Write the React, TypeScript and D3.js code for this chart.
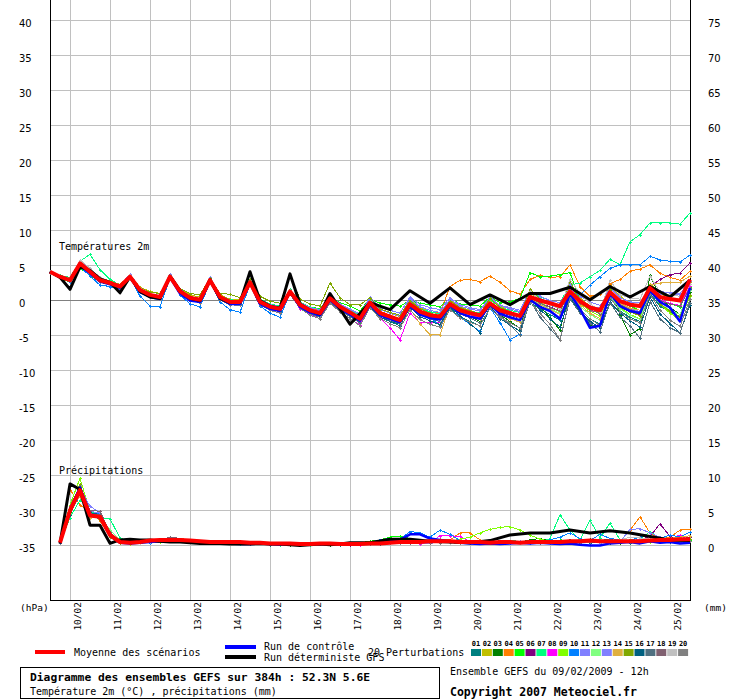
import React from "react";
import * as d3 from "d3";

// ---------- labels ----------
const DATES = ["10/02","11/02","12/02","13/02","14/02","15/02","16/02","17/02","18/02","19/02","20/02","21/02","22/02","23/02","24/02","25/02"];
const LEFT_TICKS = [40,35,30,25,20,15,10,5,0,-5,-10,-15,-20,-25,-30,-35];
const RIGHT_TICKS = [75,70,65,60,55,50,45,40,35,30,25,20,15,10,5,0];
const MEMBER_NAMES = ["01","02","03","04","05","06","07","08","09","10","11","12","13","14","15","16","17","18","19","20"];
const MEMBER_COLORS = ["#008080","#c0c000","#008000","#ff8000","#00ff00","#800080","#00ff80","#ff00ff","#80ff00","#0080ff","#8080ff","#80ff80","#8080ff","#e0b040","#80a800","#006080","#507080","#806070","#c0c0c0","#808080"];

// ---------- temperature 2m (°C), 6-hourly from 09/02 12h (65 values) ----------
const T_MEAN = [4.1,3.4,2.9,5.3,4.1,2.9,2.5,2.0,3.4,
  1.5,0.8,0.5,3.4,1.3,0.4,0.1,2.9,
  0.5,-0.2,-0.2,2.6,-0.2,-0.9,-1.2,1.3,
  -0.6,-1.4,-1.8,0.3,-0.9,-1.7,-2.6,-0.3,
  -1.8,-2.3,-2.8,-0.5,-1.6,-2.1,-2.3,-0.5,
  -1.4,-1.8,-2.1,-0.4,-1.4,-1.8,-2.2,0.5,
  0.0,-0.4,-0.8,1.3,-0.1,-1.0,-1.4,1.2,
  -0.1,-0.6,-0.8,1.8,0.5,0.2,0.0,3.0];
const T_CONTROL = [4.1,3.4,2.9,5.0,3.9,2.7,2.3,1.8,3.3,
  1.2,0.5,0.2,3.3,1.0,0.0,-0.2,2.8,
  0.3,-0.5,-0.5,2.5,-0.5,-1.2,-1.5,1.2,
  -0.9,-1.7,-2.1,0.1,-1.2,-2.0,-2.9,-0.6,
  -2.1,-2.6,-3.1,-0.8,-2.0,-2.5,-2.7,-0.7,
  -1.8,-2.3,-2.6,-0.6,-1.9,-2.4,-2.8,0.1,
  -0.9,-1.5,-2.6,1.0,-1.2,-3.9,-3.6,1.0,
  -0.8,-1.5,-1.8,1.4,-0.2,-1.0,-3.0,1.8];
const T_DET = [4.1,3.3,1.6,4.8,4.3,3.1,2.6,1.1,3.4,
  1.3,0.5,0.3,3.5,1.4,0.3,0.0,3.0,
  0.3,-0.3,-0.3,4.1,0.0,-0.8,-1.1,3.8,
  -0.5,-1.4,-1.9,1.0,-1.2,-3.4,null,-0.3,
  null,-1.3,null,1.4,null,-0.4,null,1.8,
  null,-0.6,null,0.8,null,-0.6,null,1.0,
  null,1.0,null,1.9,null,0.1,null,2.0,
  null,0.5,null,2.0,null,0.5,null,2.9];
const T_P01 = [4.1,3.3,2.7,5.0,4.0,2.8,2.4,1.9,3.3,
  1.3,0.6,0.3,3.3,1.1,0.2,-0.1,2.8,
  0.3,-0.4,-0.5,2.4,-0.4,-1.1,-1.5,1.1,
  -0.9,-1.8,-2.2,0.0,-1.3,-2.2,-3.1,-0.8,
  -2.4,-3.0,-3.6,-1.0,-2.3,-2.9,-3.4,-1.2,
  -2.3,-3.0,-3.6,-1.0,-2.4,-3.2,-3.9,-0.3,
  -1.2,-2.0,-2.8,0.5,-1.3,-2.6,-3.4,0.4,
  -1.5,-2.4,-3.0,1.0,-0.8,-1.6,-2.4,1.6];
const T_P02 = [4.2,3.5,3.0,5.6,4.4,3.2,2.8,2.3,3.6,
  1.9,1.3,1.0,3.6,1.6,0.8,0.5,3.1,
  0.8,0.2,0.1,2.8,0.1,-0.6,-0.9,1.4,
  -0.4,-1.1,-1.5,0.6,-0.6,-1.3,-2.0,0.2,
  -1.2,-1.8,-2.3,0.0,-1.0,-1.6,-2.0,0.1,
  -0.9,-1.4,-1.9,0.2,-0.8,-1.5,-2.2,1.0,
  0.3,-0.5,-1.2,2.0,0.4,-0.8,-1.6,2.2,
  0.6,-0.3,-0.8,2.4,1.0,0.4,0.0,2.6];
const T_P03 = [4.0,3.2,2.6,5.1,4.2,2.9,2.3,1.8,3.5,
  1.4,0.6,0.2,3.2,1.0,0.1,-0.2,2.7,
  0.2,-0.5,-0.6,2.5,-0.3,-1.0,-1.4,1.5,
  -0.5,-1.3,-1.9,0.5,-0.8,-1.8,-2.9,-0.4,
  -2.0,-2.6,-3.2,-0.2,-1.9,-2.6,-3.0,-0.2,
  -1.6,-2.3,-3.0,-0.6,-2.0,-3.0,-4.0,0.9,
  -0.8,-2.5,-4.2,1.1,-1.5,-3.5,-3.6,1.5,
  -2.0,-4.9,-4.0,3.6,0.5,-1.0,-2.0,1.2];
const T_P04 = [4.1,3.5,3.0,5.4,4.3,3.0,2.6,2.1,3.5,
  1.6,0.9,0.6,3.5,1.4,0.5,0.2,3.0,
  0.6,0.0,-0.1,2.7,0.0,-0.6,-0.9,1.5,
  -0.3,-1.0,-1.4,0.5,-0.7,-1.5,-2.4,-0.1,
  -1.5,-2.1,-2.6,-0.3,-1.2,-1.6,-1.8,2.0,
  2.9,3.0,2.7,3.5,2.6,1.4,0.9,3.0,
  3.6,3.3,3.4,5.1,2.0,0.6,0.9,2.4,
  3.0,4.2,4.5,5.1,3.9,3.3,2.9,4.2];
const T_P05 = [4.0,3.3,2.6,4.6,3.6,2.6,2.3,1.7,3.3,
  1.2,0.7,0.5,3.3,1.3,0.4,0.0,2.8,
  0.5,-0.1,-0.1,2.5,0.0,-0.6,-0.8,1.1,
  -0.3,-0.9,-1.2,0.5,-0.3,-0.8,-1.5,0.3,
  -0.4,-0.6,-0.8,0.0,-0.4,-0.6,-0.9,0.3,
  -0.5,-0.6,-0.8,0.5,-0.3,-0.2,0.3,4.0,
  3.4,3.5,3.7,4.0,-0.1,-0.8,-1.2,1.6,
  -0.2,-0.8,-1.4,1.2,0.0,-0.5,-0.9,2.0];
const T_P06 = [4.1,3.4,2.8,5.2,4.0,2.9,2.5,2.0,3.4,
  1.5,0.7,0.4,3.4,1.2,0.3,0.0,2.9,
  0.4,-0.3,-0.4,2.5,-0.3,-1.0,-1.3,1.2,
  -0.7,-1.5,-1.9,0.2,-1.0,-1.8,-2.7,-0.5,
  -2.0,-2.5,-3.0,-0.6,-1.8,-2.3,-2.6,-0.6,
  -1.6,-2.0,-2.4,-0.6,-1.7,-2.1,-2.5,0.3,
  -0.4,-0.9,-1.5,1.4,-0.5,-1.4,-1.8,1.0,
  -0.9,-1.6,-2.0,2.0,3.0,3.7,3.9,5.4];
const T_P07 = [4.1,3.6,3.3,5.6,6.6,4.4,3.0,2.2,3.5,
  1.6,1.0,0.7,3.6,1.5,0.6,0.3,3.1,
  0.7,0.1,0.0,2.8,0.2,-0.5,-0.8,1.6,
  -0.2,-0.9,-1.3,0.6,-0.6,-1.4,-2.1,0.1,
  -1.3,-1.8,-2.2,-0.1,-1.2,-1.6,-1.9,0.0,
  -1.1,-1.5,-1.8,0.2,-1.0,-1.4,-1.7,1.2,
  0.5,0.0,-0.3,2.2,2.5,3.4,4.3,5.9,
  5.1,8.4,9.4,11.1,11.1,11.1,10.9,12.5];
const T_P08 = [4.1,3.4,2.9,5.3,4.2,2.9,2.4,1.9,3.4,
  1.4,0.7,0.4,3.3,1.2,0.3,0.0,2.8,
  0.3,-0.4,-0.5,2.5,-0.4,-1.2,-1.6,1.0,
  -1.2,-2.0,-2.6,-0.2,-1.6,-2.6,-3.5,-0.9,
  -2.5,-3.9,-5.6,-1.8,-3.2,-3.2,-3.1,-0.8,
  -1.7,-2.1,-2.4,-0.5,-1.5,-1.9,-2.3,0.8,
  -0.1,-0.6,-1.0,2.3,-0.3,-1.4,-1.8,1.4,
  -0.5,-1.2,-1.6,1.7,0.1,-0.4,-0.7,2.1];
const T_P09 = [4.2,3.5,3.0,5.5,4.3,3.0,2.6,2.1,3.5,
  1.6,0.9,0.6,3.5,1.4,0.5,0.2,3.0,
  0.5,-0.1,-0.2,2.7,-0.1,-0.7,-1.0,1.4,
  -0.5,-1.3,-1.6,0.4,-0.8,-1.6,-2.4,-0.1,
  -1.7,-2.2,-2.6,-0.3,-1.4,-1.9,-2.2,-0.3,
  -1.2,-1.7,-2.0,-0.1,-1.3,-1.9,-2.4,0.9,
  -0.3,-1.0,-1.6,2.5,-0.4,-1.5,-2.2,0.9,
  -1.0,-2.0,-2.6,2.0,-0.5,-1.8,-2.8,0.6];
const T_P10 = [4.0,3.3,2.7,4.8,3.5,2.2,2.0,1.6,3.3,
  0.6,-0.8,-0.9,3.2,0.8,-0.5,-0.9,2.6,
  -0.2,-1.3,-1.7,2.3,-0.8,-1.8,-2.4,1.0,
  -1.0,-1.8,-2.2,0.0,-1.4,-2.0,-2.8,-0.4,
  -2.0,-2.4,-2.8,-0.4,-1.8,-2.4,-3.6,-0.6,
  -2.4,-3.4,-4.4,-1.0,-3.2,-5.6,-4.8,0.6,
  -0.4,-1.0,-0.6,1.2,0.8,2.2,3.4,4.6,
  5.1,5.1,5.1,6.3,5.8,5.6,5.5,6.5];
const T_P11 = [4.1,3.4,2.9,5.7,4.5,3.2,2.7,2.1,3.8,
  1.8,1.0,0.7,3.8,1.6,0.6,0.3,3.3,
  0.7,0.0,-0.2,2.4,-0.5,-1.3,-1.6,1.3,
  -0.4,-1.2,-1.5,0.6,-0.5,-1.2,-1.9,0.5,
  -1.0,-1.4,-1.8,0.5,-0.6,-1.0,-1.3,0.4,
  -0.6,-1.0,-1.3,0.4,-0.7,-1.0,-1.4,1.5,
  0.6,0.0,-0.3,1.6,-0.2,-0.8,-1.1,1.9,
  0.4,-0.2,-0.3,1.6,1.0,0.9,0.8,2.3];
const T_P12 = [4.1,3.4,3.0,5.2,4.0,2.8,2.5,2.0,3.4,
  1.5,0.9,0.6,3.5,1.3,0.4,0.1,3.0,
  0.6,-0.1,-0.2,2.6,-0.1,-0.8,-1.1,1.4,
  -0.5,-1.3,-1.7,0.4,-0.8,-1.6,-2.4,-0.3,
  -1.9,-2.5,-3.0,-0.7,-1.9,-2.4,-2.8,-0.8,
  -1.7,-2.2,-2.6,-0.7,-1.8,-2.4,-2.9,0.3,
  -0.5,-1.2,-1.8,0.8,-0.9,-2.0,-2.8,0.6,
  -1.2,-2.1,-2.7,1.3,-0.5,-1.4,-2.0,1.5];
const T_P13 = [4.1,3.5,3.0,5.4,4.3,3.1,2.6,2.1,3.6,
  1.6,0.9,0.6,3.6,1.4,0.5,0.3,3.1,
  0.6,0.0,0.0,2.7,0.1,-0.6,-0.9,1.5,
  -0.3,-1.0,-1.3,0.5,-0.6,-1.3,-2.0,0.3,
  -1.3,-1.8,-2.2,0.2,-0.9,-1.4,-1.7,0.2,
  -0.8,-1.2,-1.5,0.5,-0.7,-1.2,-1.6,1.2,
  0.3,-0.3,-0.8,2.3,0.6,-0.2,-0.7,1.0,
  -0.6,-1.2,-1.6,2.1,1.3,1.1,1.0,2.8];
const T_P14 = [4.0,3.3,2.8,5.2,4.1,2.8,2.4,1.9,3.3,
  1.4,0.7,0.4,3.3,1.2,0.3,0.0,2.8,
  0.4,-0.3,-0.3,2.5,-0.3,-1.0,-1.3,1.2,
  -0.7,-1.5,-2.0,0.1,-1.1,-1.9,-2.8,-0.5,
  -2.1,-2.7,-3.3,-1.2,-3.3,-4.9,-4.9,-0.8,
  -1.8,-2.3,-2.7,-0.7,-2.0,-2.6,-3.1,0.1,
  -0.6,-1.3,-2.0,1.0,-0.6,-1.8,-2.6,1.2,
  -0.4,-1.1,-1.4,2.2,2.5,2.6,2.6,3.5];
const T_P15 = [4.2,3.5,3.0,5.4,4.3,3.1,2.7,2.2,3.6,
  1.8,1.2,1.0,3.6,1.7,1.0,0.8,3.2,
  1.0,0.9,0.4,3.0,0.6,-0.1,-0.4,3.6,
  0.2,-0.5,-0.8,2.5,0.4,-0.6,-0.6,0.4,
  -1.2,-1.7,-2.1,0.0,-1.2,-1.8,-2.2,-0.1,
  -1.0,-1.5,-1.9,0.3,-1.0,-1.6,-2.1,1.6,
  0.2,-0.6,-1.3,2.8,0.0,-1.0,-1.8,1.6,
  -0.7,-1.6,-2.2,2.0,-0.5,-1.5,-2.3,0.8];
const T_P16 = [4.0,3.3,2.8,5.1,4.0,2.8,2.4,1.9,3.3,
  1.3,0.6,0.3,3.2,1.1,0.2,-0.1,2.7,
  0.3,-0.4,-0.4,2.4,-0.4,-1.1,-1.4,1.1,
  -0.9,-1.8,-2.3,0.0,-1.3,-2.2,-3.1,-0.8,
  -2.4,-2.9,-3.4,-1.0,-2.3,-2.9,-3.5,-0.9,
  -2.2,-3.3,-4.6,-0.8,-2.6,-3.5,-4.4,0.3,
  -1.3,-2.6,-3.8,0.4,-1.6,-3.0,-3.9,-0.2,
  -1.8,-2.9,-3.8,0.5,-1.9,-3.3,-4.6,-0.6];
const T_P17 = [4.1,3.3,2.8,5.3,4.1,2.9,2.4,1.9,3.4,
  1.4,0.7,0.3,3.3,1.2,0.2,-0.1,2.8,
  0.3,-0.4,-0.5,2.4,-0.5,-1.2,-1.6,1.0,
  -1.0,-1.9,-2.4,-0.2,-1.4,-2.3,-3.2,-0.7,
  -2.2,-2.8,-3.3,-0.8,-2.0,-2.6,-3.0,-0.9,
  -1.9,-2.5,-3.2,-0.3,-2.2,-3.5,-4.9,0.0,
  -2.4,-4.0,-5.6,0.2,-1.8,-3.2,-4.5,-0.3,
  -2.4,-3.6,-5.4,-0.2,-2.6,-3.9,-4.6,-0.3];
const T_P18 = [4.1,3.4,2.9,5.4,4.2,3.0,2.5,2.0,3.5,
  1.5,0.8,0.5,3.4,1.3,0.4,0.1,2.9,
  0.5,-0.2,-0.2,2.6,-0.2,-0.9,-1.2,1.3,
  -0.6,-1.4,-1.8,0.3,-0.9,-1.7,-2.6,-0.3,
  -1.8,-2.3,-2.8,-0.5,-1.6,-2.1,-2.3,-0.5,
  -1.4,-1.9,-2.2,-0.3,-1.5,-2.0,-2.5,0.4,
  -0.4,-1.0,-1.5,1.2,-0.3,-1.3,-1.9,1.0,
  -0.6,-1.3,-1.7,1.5,0.0,-0.5,-0.8,1.8];
const T_P19 = [4.2,3.5,3.0,5.8,4.6,3.3,2.7,2.1,3.7,
  1.8,1.0,0.6,3.6,1.5,0.5,0.2,3.1,
  0.7,0.0,-0.1,2.7,0.0,-0.8,-1.1,1.5,
  -0.6,-1.5,-2.0,0.2,-1.0,-1.9,-2.8,-0.3,
  -2.0,-2.6,-3.1,-0.4,-1.7,-2.4,-2.8,-0.4,
  -1.4,-1.9,-2.3,-0.2,-1.2,-1.8,-2.6,1.3,
  0.1,-0.6,-1.2,3.0,1.0,-0.4,-1.6,2.9,
  0.8,0.4,0.2,3.5,1.2,0.8,0.6,2.4];
const T_P20 = [4.0,3.3,2.8,5.0,3.9,2.7,2.3,1.8,3.2,
  1.2,0.5,0.2,3.2,1.0,0.0,-0.3,2.6,
  0.1,-0.6,-0.7,2.3,-0.6,-1.4,-1.8,0.9,
  -1.1,-2.1,-2.6,-0.4,-1.6,-2.6,-3.6,-1.0,
  -2.6,-3.3,-3.9,-1.4,-2.7,-3.4,-3.8,-1.3,
  -2.5,-3.1,-3.6,-1.1,-2.4,-3.2,-3.9,-0.2,
  -1.8,-3.4,-5.6,0.6,-1.2,-2.6,-3.6,0.5,
  -1.6,-2.6,-3.2,0.9,-1.4,-2.8,-3.7,0.2];
const T_MEMBERS = [T_P01,T_P02,T_P03,T_P04,T_P05,T_P06,T_P07,T_P08,T_P09,T_P10,T_P11,T_P12,T_P13,T_P14,T_P15,T_P16,T_P17,T_P18,T_P19,T_P20];

// ---------- precipitation (mm), 6-hourly from 09/02 18h (64 values) ----------
const P_MEAN = [0.4,5.0,7.9,4.3,4.1,1.5,0.5,0.4,
  0.5,0.7,0.8,0.8,0.8,0.7,0.6,0.5,
  0.5,0.5,0.5,0.4,0.4,0.3,0.3,0.3,
  0.2,0.2,0.3,0.3,0.2,0.2,0.2,0.3,
  0.3,0.4,0.5,0.5,0.5,0.6,0.6,0.6,
  0.5,0.5,0.5,0.4,0.5,0.5,0.4,0.5,
  0.5,0.5,0.5,0.6,0.6,0.7,0.6,0.6,
  0.6,0.6,0.6,0.7,0.8,0.8,0.9,0.9];
const P_CONTROL = [0.3,5.0,8.3,4.4,4.0,1.4,0.4,0.3,
  0.4,0.5,0.6,0.7,0.6,0.5,0.4,0.4,
  0.3,0.3,0.2,0.2,0.3,0.2,0.1,0.2,
  0.1,0.2,0.2,0.1,0.2,0.1,0.2,0.3,
  0.4,0.6,0.8,1.6,1.6,1.0,0.8,0.6,
  0.4,0.3,0.2,0.3,0.2,0.3,0.4,0.3,
  0.4,0.3,0.2,0.3,0.1,0.0,0.0,0.3,
  0.4,0.5,0.3,0.6,0.4,0.5,0.3,0.4];
const P_DET = [0.3,8.8,8.0,2.9,2.9,0.3,0.8,0.9,
  0.8,0.8,0.6,0.5,0.5,0.4,0.3,0.3,
  0.3,0.2,0.2,0.2,0.3,0.2,0.2,0.1,
  0.0,0.1,0.2,0.1,0.2,0.4,null,0.4,
  null,0.9,null,0.9,null,0.6,null,0.5,
  null,0.4,null,0.7,null,1.5,null,1.8,
  null,1.8,null,2.2,null,1.8,null,2.1,
  null,1.8,null,1.3,null,0.8,null,0.7];
const P_P01 = [0.3,4.5,8.0,4.0,4.2,1.4,0.4,0.3, 0.4,0.6,0.8,0.9,0.7,0.5,0.4,0.3, 0.4,0.3,0.5,0.4,0.2,0.1,0.2,0.3, 0.1,0.2,0.4,0.3,0.1,0.2,0.1,0.3, 0.2,0.5,0.6,0.4,0.8,0.6,0.5,0.7, 0.4,0.3,0.6,0.5,0.4,0.7,0.3,0.4, 0.5,0.3,0.6,0.8,0.4,0.5,0.7,0.9, 0.5,0.4,0.7,0.6,1.0,0.9,0.7,1.2];
const P_P02 = [0.4,5.5,8.5,4.6,3.8,1.2,0.3,0.2, 0.3,0.5,0.6,0.7,0.8,0.6,0.5,0.4, 0.5,0.4,0.2,0.3,0.4,0.3,0.1,0.2, 0.3,0.1,0.2,0.4,0.3,0.2,0.3,0.2, 0.4,0.3,0.5,0.6,0.4,0.5,0.8,0.6, 0.7,0.5,0.4,0.3,0.6,0.5,0.5,0.4, 0.6,0.7,0.4,0.5,0.8,0.6,0.5,0.4, 0.7,0.5,0.6,0.9,0.6,0.8,1.0,0.7];
const P_P03 = [0.4,4.8,7.5,4.4,4.3,1.7,0.5,0.3, 0.5,0.4,0.5,0.6,0.8,0.7,0.4,0.5, 0.3,0.5,0.4,0.2,0.3,0.2,0.3,0.1, 0.2,0.3,0.2,0.1,0.3,0.2,0.4,0.5, 0.6,0.4,0.7,0.9,0.5,0.4,0.6,0.5, 0.3,0.6,0.5,0.4,0.7,0.6,0.5,0.8, 1.0,0.7,0.5,0.4,0.6,0.9,0.5,0.3, 0.4,0.6,0.8,0.5,0.7,0.6,0.5,0.8];
const P_P04 = [0.5,8.0,5.8,4.8,3.5,1.3,0.4,0.4, 0.3,0.6,0.7,0.9,1.0,0.8,0.5,0.3, 0.4,0.3,0.2,0.3,0.2,0.4,0.3,0.2, 0.2,0.3,0.2,0.3,0.4,0.3,0.2,0.2, 0.3,0.4,0.5,0.6,0.7,0.6,0.9,0.8, 1.8,1.8,0.8,0.5,0.4,0.6,0.5,0.4, 0.3,0.5,0.6,0.5,0.8,0.6,0.4,0.7, 0.5,2.2,4.1,1.8,0.9,1.2,2.2,2.3];
const P_P05 = [0.4,5.2,8.3,4.2,4.4,1.8,0.6,0.4, 0.4,0.5,0.6,0.6,0.7,0.5,0.4,0.4, 0.3,0.5,0.4,0.3,0.2,0.3,0.2,0.2, 0.3,0.2,0.3,0.2,0.4,0.3,0.4,0.6, 0.8,1.2,1.3,1.0,0.7,0.6,0.5,0.4, 0.5,0.4,0.3,0.6,0.5,0.3,0.4,0.5, 0.6,0.4,0.8,0.7,0.5,0.6,0.8,0.5, 0.7,0.5,0.6,0.8,0.7,0.6,0.9,0.8];
const P_P06 = [0.3,4.9,7.8,4.5,4.0,1.6,0.4,0.4, 0.4,0.5,0.7,0.8,0.6,0.5,0.5,0.4, 0.5,0.3,0.3,0.2,0.4,0.3,0.2,0.3, 0.2,0.3,0.2,0.4,0.2,0.1,0.3,0.2, 0.3,0.4,0.3,0.5,0.6,0.4,0.5,0.7, 0.4,0.5,0.6,0.3,0.4,0.5,0.6,0.4, 0.5,0.6,0.5,0.7,0.4,0.6,0.5,0.8, 0.6,0.7,0.8,1.3,3.1,1.3,0.9,1.2];
const P_P07 = [0.4,4.0,6.5,5.0,4.0,3.8,1.1,0.4, 0.3,0.5,0.6,0.7,0.6,0.5,0.4,0.3, 0.4,0.3,0.2,0.3,0.2,0.2,0.1,0.2, 0.2,0.1,0.2,0.3,0.2,0.3,0.2,0.3, 0.4,0.5,0.4,0.6,0.5,0.7,0.5,0.4, 0.3,0.5,0.6,0.4,0.5,0.7,0.6,0.5, 0.4,1.0,4.4,2.2,0.8,3.6,1.1,3.2, 0.8,0.6,0.9,2.0,1.0,0.7,0.9,1.0];
const P_P08 = [0.4,5.0,7.6,4.1,4.5,1.5,0.5,0.3, 0.4,0.5,0.6,0.8,0.7,0.6,0.5,0.4, 0.3,0.4,0.3,0.2,0.3,0.2,0.2,0.3, 0.2,0.3,0.2,0.2,0.3,0.2,0.1,0.2, 0.3,0.5,0.4,0.3,0.2,0.3,1.4,1.4, 1.3,0.6,0.4,0.3,0.4,0.5,0.3,0.4, 0.5,0.4,0.6,0.5,0.7,0.4,0.6,0.5, 0.6,0.8,0.5,0.7,0.6,0.9,1.5,0.7];
const P_P09 = [0.4,5.8,9.6,4.8,4.0,1.3,0.4,0.3, 0.4,0.6,0.5,0.7,0.8,0.6,0.4,0.4, 0.3,0.4,0.3,0.2,0.3,0.2,0.3,0.2, 0.2,0.3,0.2,0.3,0.2,0.4,0.2,0.3, 0.4,0.3,0.5,0.4,0.6,0.5,0.8,0.6, 0.9,1.2,1.8,2.3,2.6,2.7,2.2,1.5, 0.9,0.6,0.5,0.7,0.6,0.5,0.4,0.6, 0.5,0.7,0.6,0.5,0.8,0.6,0.7,0.9];
const P_P10 = [0.4,4.6,7.2,4.6,4.6,1.9,0.6,0.4, 0.5,0.4,0.6,0.7,0.8,0.7,0.5,0.4, 0.4,0.3,0.3,0.4,0.2,0.3,0.2,0.3, 0.1,0.2,0.3,0.2,0.2,0.4,0.3,0.5, 0.8,1.0,0.9,2.0,1.8,1.2,2.2,1.6, 0.7,0.5,0.4,0.6,0.3,0.5,0.6,0.4, 0.5,0.8,1.2,1.8,1.0,0.7,1.6,1.0, 0.8,0.7,1.2,1.4,1.0,1.5,1.2,1.9];
const P_P11 = [0.4,5.3,8.6,4.9,4.6,1.6,0.5,0.3, 0.4,0.5,0.7,0.8,0.8,0.6,0.5,0.5, 0.4,0.3,0.4,0.3,0.2,0.3,0.3,0.2, 0.2,0.3,0.2,0.3,0.3,0.2,0.2,0.3, 0.3,0.4,0.6,0.5,0.4,0.3,0.5,0.6, 0.4,0.5,0.3,0.6,0.5,0.4,0.5,0.6, 0.4,0.6,0.5,0.7,0.8,0.5,0.4,0.6, 0.5,2.3,2.4,1.8,1.2,0.8,0.7,1.0];
const P_P12 = [0.3,4.7,7.4,4.2,4.3,2.2,0.8,0.4, 0.5,0.6,0.6,0.7,0.6,0.5,0.4,0.4, 0.3,0.4,0.3,0.3,0.2,0.2,0.3,0.2, 0.3,0.2,0.3,0.2,0.2,0.3,0.2,0.2, 0.4,0.3,0.4,0.5,0.6,0.5,0.4,0.5, 0.6,0.5,0.4,0.5,0.4,0.6,0.5,0.5, 0.6,0.4,0.5,0.6,0.5,0.7,0.6,0.5, 0.7,0.5,0.6,0.8,0.6,0.7,0.8,0.7];
const P_P13 = [0.4,5.1,8.2,5.6,4.7,1.7,0.5,0.3, 0.4,0.6,0.7,0.8,0.9,0.7,0.5,0.4, 0.5,0.4,0.3,0.2,0.3,0.2,0.2,0.3, 0.2,0.2,0.3,0.2,0.3,0.2,0.3,0.2, 0.3,0.4,0.5,0.6,0.5,0.7,0.6,0.4, 0.5,0.4,0.5,0.3,0.4,0.5,0.6,0.4, 0.5,0.6,0.4,0.6,0.5,0.7,0.8,0.6, 0.7,0.6,0.9,0.8,0.7,0.6,1.1,0.9];
const P_P14 = [0.3,5.4,7.0,4.0,3.9,1.4,0.4,0.3, 0.5,0.5,0.6,0.7,0.7,0.6,0.4,0.4, 0.4,0.3,0.3,0.2,0.3,0.4,0.2,0.2, 0.2,0.2,0.3,0.2,0.3,0.2,0.2,0.3, 0.5,0.4,0.6,0.5,0.5,0.4,0.6,0.7, 0.6,0.5,0.4,0.5,0.6,0.4,0.5,0.6, 0.5,0.7,0.5,0.6,0.7,0.5,0.6,0.7, 0.8,0.6,0.7,0.9,0.8,1.0,1.2,1.4];
const P_P15 = [0.4,5.0,8.8,4.4,3.7,1.2,0.4,0.3, 0.4,0.5,0.6,0.6,0.7,0.5,0.5,0.4, 0.3,0.3,0.4,0.3,0.2,0.2,0.3,0.2, 0.3,0.2,0.2,0.3,0.2,0.3,0.2,0.4, 0.5,0.6,0.5,0.4,0.6,0.5,0.4,0.5, 0.4,0.6,0.5,0.4,0.5,0.6,0.4,0.5, 0.6,0.5,0.7,0.5,0.6,0.5,0.7,0.6, 0.6,0.8,0.7,0.6,0.9,0.7,0.8,1.0];
const P_P16 = [0.3,4.4,7.9,4.7,4.4,1.8,0.6,0.4, 0.4,0.5,0.7,0.8,0.7,0.6,0.4,0.3, 0.4,0.4,0.3,0.2,0.3,0.2,0.2,0.3, 0.2,0.3,0.3,0.2,0.2,0.2,0.3,0.3, 0.4,0.5,0.4,0.6,0.7,0.5,0.4,0.6, 0.5,0.4,0.6,0.5,0.4,0.3,0.5,0.4, 0.6,0.5,0.4,0.6,0.5,0.4,0.6,0.7, 0.5,0.7,0.6,0.8,0.6,0.5,0.7,0.6];
const P_P17 = [0.4,5.2,7.7,4.3,4.5,1.5,0.5,0.4, 0.5,0.5,0.6,0.7,0.7,0.6,0.5,0.4, 0.3,0.4,0.4,0.3,0.3,0.2,0.2,0.2, 0.3,0.2,0.2,0.3,0.2,0.3,0.2,0.3, 0.4,0.5,0.5,0.4,0.6,0.5,0.6,0.5, 0.4,0.5,0.6,0.4,0.5,0.6,0.5,0.4, 0.5,0.6,0.5,0.4,0.5,0.6,0.5,0.6, 0.7,0.5,0.6,0.7,0.6,0.8,0.7,0.6];
const P_P18 = [0.4,5.6,8.4,5.0,4.9,1.9,0.5,0.4, 0.4,0.6,0.8,1.2,1.0,0.7,0.5,0.4, 0.4,0.3,0.3,0.2,0.2,0.3,0.2,0.2, 0.2,0.2,0.3,0.2,0.2,0.3,0.2,0.2, 0.3,0.4,0.5,0.4,0.5,0.4,0.5,0.6, 0.5,0.4,0.5,0.6,0.4,0.5,0.4,0.5, 0.4,0.5,0.6,0.5,0.4,0.6,0.5,0.6, 0.6,0.7,0.6,0.8,0.7,0.6,0.8,0.7];
const P_P19 = [0.4,5.1,7.9,4.4,4.2,1.5,0.5,0.4, 0.4,0.5,0.6,0.7,0.7,0.6,0.5,0.4, 0.4,0.3,0.3,0.3,0.2,0.2,0.3,0.2, 0.2,0.2,0.2,0.3,0.3,0.2,0.3,0.3, 0.3,0.4,0.5,0.5,0.4,0.6,0.5,0.4, 0.5,0.6,0.5,0.4,0.6,0.5,0.4,0.5, 0.6,0.5,0.6,0.7,0.5,0.6,0.5,0.6, 0.8,1.2,1.1,0.9,0.8,0.7,0.6,0.6];
const P_P20 = [0.4,4.9,7.3,4.6,4.1,1.6,0.5,0.3, 0.5,0.6,0.7,0.7,0.8,0.6,0.4,0.4, 0.3,0.4,0.3,0.3,0.3,0.2,0.2,0.2, 0.2,0.3,0.2,0.2,0.3,0.2,0.2,0.3, 0.4,0.3,0.4,0.5,0.4,0.5,0.4,0.5, 0.4,0.5,0.4,0.5,0.5,0.4,0.5,0.4, 0.5,0.4,0.5,0.6,0.5,0.5,0.6,0.5, 0.6,0.5,0.7,0.6,0.5,0.6,0.5,0.6];
const P_MEMBERS = [P_P01,P_P02,P_P03,P_P04,P_P05,P_P06,P_P07,P_P08,P_P09,P_P10,P_P11,P_P12,P_P13,P_P14,P_P15,P_P16,P_P17,P_P18,P_P19,P_P20];

const MONO = "'DejaVu Sans Mono', monospace";
const SANS = "'DejaVu Sans', sans-serif";

export default function App() {
  const W = 740, H = 700;
  const x = d3.scaleLinear().domain([0, 64]).range([50, 690]);
  const yT = d3.scaleLinear().domain([-35, 40]).range([545.5, 20.5]);
  const yP = d3.scaleLinear().domain([0, 75]).range([545.5, 20.5]);

  const pts = (vals: (number | null)[], offset: number) =>
    vals.map((v, i) => [i + offset, v] as [number, number | null]).filter((p) => p[1] !== null) as [number, number][];

  const path = (vals: (number | null)[], offset: number, y: d3.ScaleLinear<number, number>) =>
    d3.line<[number, number]>().x((d) => x(d[0])).y((d) => y(d[1]))(pts(vals, offset)) || "";

  const marks = (vals: (number | null)[], offset: number, y: d3.ScaleLinear<number, number>) =>
    pts(vals, offset)
      .map((d) => {
        const px = Math.round(x(d[0])) + 0.5, py = Math.round(y(d[1])) + 0.5;
        return `M${px - 1.5},${py}h3M${px},${py - 1.5}v3`;
      })
      .join("");

  const dayX = (k: number) => x(2 + 4 * k);

  return (
    <svg width={W} height={H} viewBox={`0 0 ${W} ${H}`}
      style={{ position: "absolute", left: 0, top: 0, background: "#fff", display: "block" }}>
      <rect x={0} y={0} width={W} height={H} fill="#fff" />
      {/* grid */}
      <g shapeRendering="crispEdges">
        {DATES.map((d, k) => (
          <line key={d} x1={dayX(k)} x2={dayX(k)} y1={0} y2={600} stroke="#c0c0c0" strokeWidth={1} />
        ))}
        {LEFT_TICKS.map((t) => (
          <line key={t} x1={50} x2={690} y1={yT(t)} y2={yT(t)} stroke={t === 0 ? "#808080" : "#c0c0c0"} strokeWidth={1} />
        ))}
        <line x1={50.5} x2={50.5} y1={0} y2={600} stroke="#000" />
        <line x1={690.5} x2={690.5} y1={0} y2={600} stroke="#000" />
        <line x1={50} x2={691} y1={600.5} y2={600.5} stroke="#000" />
      </g>
      {/* axis labels */}
      <g fontFamily={SANS} fontSize={10} fill="#000">
        {LEFT_TICKS.map((t) => (
          <text key={t} x={19} y={yT(t) + 2.5} dominantBaseline="central">{t}</text>
        ))}
        {RIGHT_TICKS.map((t) => (
          <text key={t} x={708} y={yP(t) + 2.5} dominantBaseline="central">{t}</text>
        ))}
      </g>
      <g fontFamily={MONO} fontSize={9.5} fill="#000">
        <text x={20} y={607} dominantBaseline="central">(hPa)</text>
        <text x={704} y={607} dominantBaseline="central">(mm)</text>
        {DATES.map((d, k) => (
          <text key={d} transform={`translate(${dayX(k) + 7},602) rotate(-90)`} textAnchor="end" dominantBaseline="central">{d}</text>
        ))}
      </g>
      <g fontFamily={MONO} fontSize={10} fill="#000">
        <text x={59} y={246} dominantBaseline="central">Températures 2m</text>
        <text x={59} y={470} dominantBaseline="central">Précipitations</text>
      </g>
      {/* ensemble members */}
      <g fill="none" strokeWidth={1} shapeRendering="crispEdges">
        {T_MEMBERS.map((m, i) => (
          <g key={"t" + i} stroke={MEMBER_COLORS[i]}>
            <path d={path(m, 0, yT)} />
            <path d={marks(m, 0, yT)} />
          </g>
        ))}
        {P_MEMBERS.map((m, i) => (
          <g key={"p" + i} stroke={MEMBER_COLORS[i]}>
            <path d={path(m, 1, yP)} />
            <path d={marks(m, 1, yP)} />
          </g>
        ))}
      </g>
      {/* control, deterministic, mean */}
      <g fill="none" strokeLinejoin="round">
        <path d={path(T_CONTROL, 0, yT)} stroke="#0000ff" strokeWidth={2.5} />
        <path d={path(P_CONTROL, 1, yP)} stroke="#0000ff" strokeWidth={2.5} />
        <path d={path(T_DET, 0, yT)} stroke="#000" strokeWidth={3} />
        <path d={path(P_DET, 1, yP)} stroke="#000" strokeWidth={3} />
        <path d={path(T_MEAN, 0, yT)} stroke="#ff0000" strokeWidth={4} />
        <path d={path(P_MEAN, 1, yP)} stroke="#ff0000" strokeWidth={4} />
      </g>
      {/* legend */}
      <g fontFamily={MONO} fontSize={10} fill="#000">
        <rect x={35} y={650} width={30} height={4} fill="#ff0000" />
        <text x={74} y={652} dominantBaseline="central">Moyenne des scénarios</text>
        <rect x={225} y={645} width={31} height={4} fill="#0000ff" />
        <rect x={225} y={655} width={31} height={4} fill="#000" />
        <text x={264} y={646.5} dominantBaseline="central">Run de contrôle</text>
        <text x={264} y={657.5} dominantBaseline="central">Run déterministe GFS</text>
        <text x={368} y={652} dominantBaseline="central">20 Perturbations</text>
        {MEMBER_NAMES.map((n, i) => (
          <g key={n}>
            <text x={471 + i * 10.9 + 5} y={644} textAnchor="middle" dominantBaseline="central" fontSize={7} fontWeight="bold">{n}</text>
            <rect x={471 + i * 10.9} y={649} width={10} height={7} fill={MEMBER_COLORS[i]} />
          </g>
        ))}
      </g>
      {/* footer */}
      <rect x={20.5} y={667.5} width={419} height={31} fill="none" stroke="#000" />
      <g fontFamily={MONO} fill="#000">
        <text x={30} y={677.5} fontSize={11.3} fontWeight="bold" dominantBaseline="central">Diagramme des ensembles GEFS sur 384h : 52.3N 5.6E</text>
        <text x={30} y={691.5} fontSize={10} dominantBaseline="central">Température 2m (°C) , précipitations (mm)</text>
        <text x={450} y={671.5} fontSize={10} dominantBaseline="central">Ensemble GEFS du 09/02/2009 - 12h</text>
        <text x={450} y={691.5} fontSize={11.5} fontWeight="bold" dominantBaseline="central">Copyright 2007 Meteociel.fr</text>
      </g>
    </svg>
  );
}
